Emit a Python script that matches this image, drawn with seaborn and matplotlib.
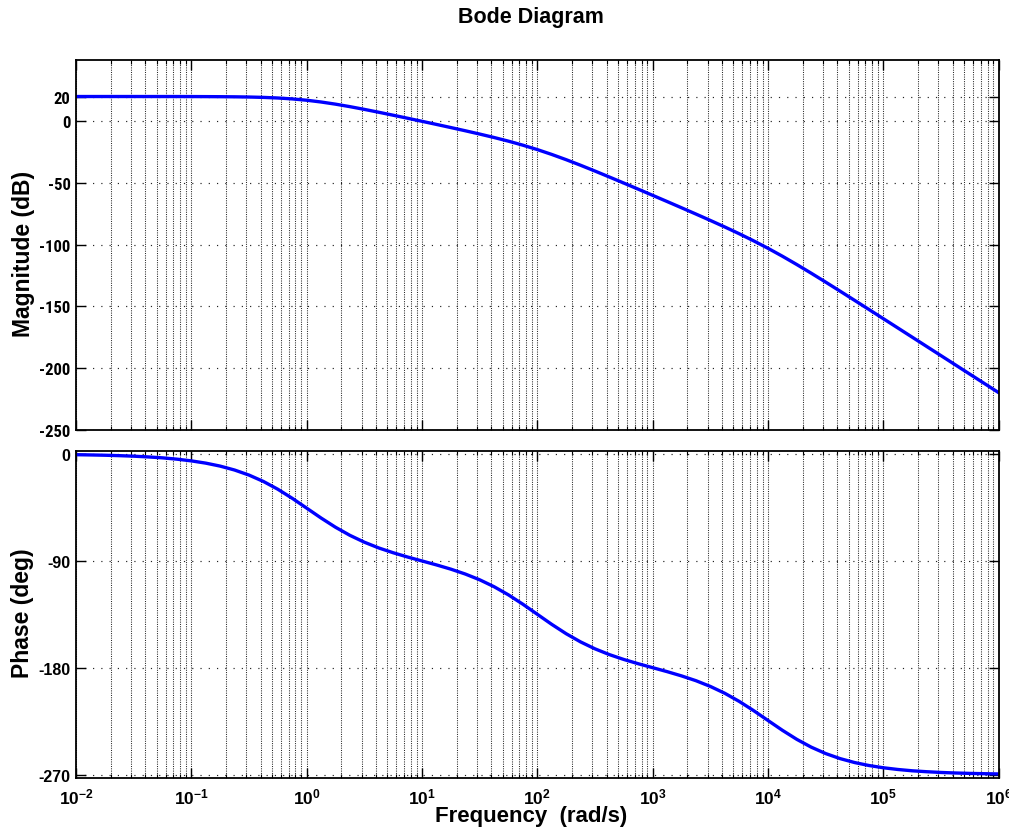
import numpy as np
import pandas as pd
import matplotlib
matplotlib.use("Agg")
import matplotlib.pyplot as plt
import matplotlib.ticker as mticker
from matplotlib import font_manager
import seaborn as sns

# log10 of frequency (rad/s), eighth-decade sample grid
log_freq = [-2.0, -1.875, -1.75, -1.625, -1.5, -1.375, -1.25, -1.125,
            -1.0, -0.875, -0.75, -0.625, -0.5, -0.375, -0.25, -0.125,
            0.0, 0.125, 0.25, 0.375, 0.5, 0.625, 0.75, 0.875,
            1.0, 1.125, 1.25, 1.375, 1.5, 1.625, 1.75, 1.875,
            2.0, 2.125, 2.25, 2.375, 2.5, 2.625, 2.75, 2.875,
            3.0, 3.125, 3.25, 3.375, 3.5, 3.625, 3.75, 3.875,
            4.0, 4.125, 4.25, 4.375, 4.5, 4.625, 4.75, 4.875,
            5.0, 5.125, 5.25, 5.375, 5.5, 5.625, 5.75, 5.875, 6.0]
magnitude_db = [20.00, 20.00, 20.00, 20.00, 20.00, 19.99, 19.99, 19.98,
                19.96, 19.92, 19.86, 19.76, 19.59, 19.29, 18.81, 18.06,
                16.99, 15.56, 13.81, 11.79, 9.58, 7.25, 4.85, 2.40,
                -0.09, -2.60, -5.15, -7.75, -10.42, -13.21, -16.19, -19.44,
                -23.01, -26.94, -31.19, -35.71, -40.42, -45.25, -50.15, -55.10,
                -60.09, -65.10, -70.15, -75.25, -80.42, -85.71, -91.19, -96.94,
                -103.01, -109.44, -116.19, -123.21, -130.41, -137.74, -145.14, -152.58,
                -160.04, -167.52, -175.01, -182.51, -190.0, -197.50, -205.0, -212.50, -220.0]
phase_deg = [-0.57, -0.77, -1.02, -1.37, -1.81, -2.44, -3.22, -4.33,
             -5.77, -7.67, -10.18, -13.48, -17.73, -23.11, -29.67, -37.30,
             -45.57, -53.90, -61.67, -68.49, -74.26, -79.10, -83.14, -86.74,
             -90.06, -93.38, -96.96, -101.06, -105.92, -111.75, -118.65, -126.53,
             -135.0, -143.47, -151.35, -158.25, -164.08, -168.94, -173.04, -176.62,
             -179.94, -183.27, -186.86, -190.90, -195.74, -201.49, -208.33, -216.09,
             -224.43, -232.70, -240.33, -246.89, -252.27, -256.52, -259.82, -262.33,
             -264.23, -265.67, -266.78, -267.56, -268.19, -268.63, -268.98, -269.23, -269.43]
mag_ticks = [20, 0, -50, -100, -150, -200, -250]
phase_ticks = [0, -90, -180, -270]
decade_exponents = [-2, -1, 0, 1, 2, 3, 4, 5, 6]

df = pd.DataFrame({"freq": np.power(10.0, log_freq), "mag": magnitude_db, "phase": phase_deg})

sns.set_theme(style="white")
plt.rcParams["font.family"] = ["Liberation Sans", "DejaVu Sans"]
plt.rcParams["font.weight"] = "bold"
plt.rcParams["text.color"] = "black"
plt.rcParams["axes.labelcolor"] = "black"
plt.rcParams["xtick.color"] = "black"
plt.rcParams["ytick.color"] = "black"
plt.rcParams["mathtext.fontset"] = "custom"
plt.rcParams["mathtext.rm"] = "Liberation Sans:bold"
plt.rcParams["mathtext.bf"] = "Liberation Sans:bold"
plt.rcParams["mathtext.default"] = "bf"

# condensed family for the magnitude tick labels, if one is installed
installed = {f.name for f in font_manager.fontManager.ttflist}
narrow_family = None
for cand in ["Liberation Sans Narrow", "DejaVu Sans Condensed", "Roboto Condensed",
             "Open Sans Condensed", "Noto Sans Condensed"]:
    if cand in installed:
        narrow_family = cand
        break

W, H = 1009, 837
fig = plt.figure(figsize=(W / 100, H / 100), dpi=100)

def px_axes(left, top, right, bottom):
    return fig.add_axes([left / W, 1 - bottom / H, (right - left) / W, (bottom - top) / H])

ax1 = px_axes(76, 60.5, 998.7, 430.7)
ax2 = px_axes(76, 451.7, 998.7, 778.7)

sns.lineplot(data=df, x="freq", y="mag", ax=ax1, color="#0000ff", linewidth=2.4)
sns.lineplot(data=df, x="freq", y="phase", ax=ax2, color="#0000ff", linewidth=2.4)

majors = [10.0 ** e for e in decade_exponents]
minors = [m * 10.0 ** e for e in decade_exponents[:-1] for m in range(2, 10)]

for ax in (ax1, ax2):
    ax.set_xscale("log")
    ax.set_xlim(1e-2, 1e6)
    ax.xaxis.set_major_locator(mticker.FixedLocator(majors))
    ax.xaxis.set_minor_locator(mticker.FixedLocator(minors))
    ax.grid(True, which="both", axis="x", linestyle=(0, (1, 1.2)), color="#2a2a2a", linewidth=0.75)
    ax.grid(True, which="major", axis="y", linestyle=(0, (1, 6)), color="#222222", linewidth=0.85)
    ax.tick_params(which="major", direction="in", length=7.5, width=1.0, top=True, right=True,
                   bottom=True, left=True, colors="black", pad=4)
    ax.tick_params(which="minor", direction="in", length=3, width=0.8, top=True, right=True,
                   bottom=True, left=True, colors="black")
    ax.tick_params(axis="y", which="minor", left=False, right=False)
    for s in ax.spines.values():
        s.set_visible(True)
        s.set_color("black")
        s.set_linewidth(1.3)
    ax.set_xlabel("")
    ax.set_ylabel("")

ax1.set_ylim(-250, 50)
ax1.set_yticks(mag_ticks)
if narrow_family:
    ax1.set_yticklabels([str(t) for t in mag_ticks], family=narrow_family,
                        fontsize=12, fontweight="bold")
else:
    ax1.set_yticklabels([str(t) for t in mag_ticks], fontsize=10.5, fontweight="bold")
ax1.tick_params(axis="x", which="both", labelbottom=False)

ax2.set_ylim(-272.6, 2.8)
ax2.set_yticks(phase_ticks)
ax2.set_yticklabels([str(t) for t in phase_ticks], fontsize=11.5, fontweight="bold")
ax2.xaxis.set_major_formatter(
    mticker.FuncFormatter(lambda v, p: r"$\mathbf{10^{%d}}$" % int(round(np.log10(v)))))
ax2.tick_params(axis="x", which="major", pad=6, labelsize=12.5)

fig.text(24 / W, 1 - 254 / H, "Magnitude (dB)", rotation=90, ha="center", va="center",
         fontsize=16.5, fontweight="bold")
fig.text(23 / W, 1 - 613 / H, "Phase (deg)", rotation=90, ha="center", va="center",
         fontsize=16.5, fontweight="bold")
fig.text(531 / W, 1 - 817 / H, "Frequency  (rad/s)", ha="center", va="center",
         fontsize=16, fontweight="bold")
fig.text(531 / W, 1 - 18 / H, "Bode Diagram", ha="center", va="center", fontsize=15.5,
         fontweight="bold")

fig.savefig("out.png", dpi=100)
